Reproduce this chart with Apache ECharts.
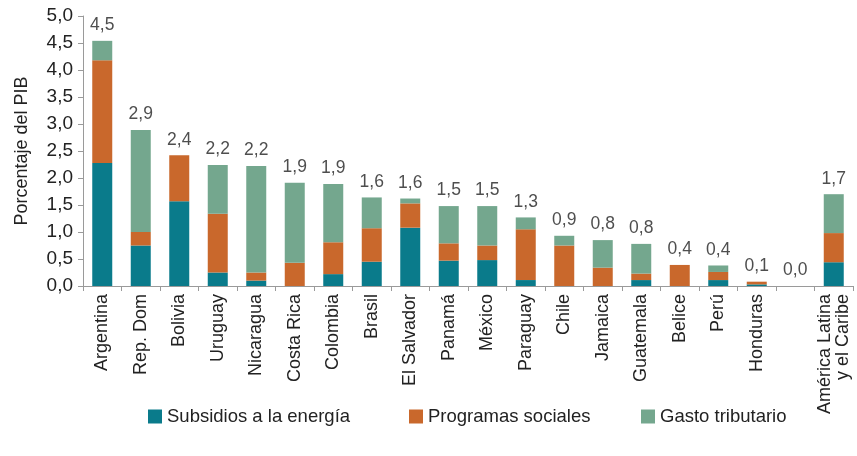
<!DOCTYPE html>
<html>
<head>
<meta charset="utf-8">
<script src="https://cdn.jsdelivr.net/npm/echarts@6/dist/echarts.min.js"></script>
<style>
  html, body { margin: 0; padding: 0; background: #fff; }
  #chart { width: 857px; height: 456px; }
</style>
</head>
<body>
<div id="chart"></div>
<script>
// categorías (la casilla vacía es la que muestra 0,0)
const categories = ['Argentina', 'Rep. Dom', 'Bolivia', 'Uruguay', 'Nicaragua', 'Costa Rica', 'Colombia', 'Brasil',
  'El Salvador', 'Panamá', 'México', 'Paraguay', 'Chile', 'Jamaica', 'Guatemala', 'Belice', 'Perú', 'Honduras', '',
  'América Latina\ny el Caribe']
const subsidios = [2.28, 0.75, 1.57, 0.25, 0.1, 0, 0.22, 0.45, 1.08, 0.47, 0.48, 0.11, 0, 0, 0.11, 0, 0.11, 0.03, 0, 0.44]
const programas = [1.9, 0.25, 0.85, 1.09, 0.15, 0.43, 0.59, 0.62, 0.45, 0.32, 0.27, 0.94, 0.75, 0.34, 0.12, 0.39, 0.15, 0.05, 0, 0.54]
const gasto = [0.36, 1.89, 0, 0.9, 1.97, 1.48, 1.08, 0.57, 0.09, 0.69, 0.73, 0.22, 0.18, 0.51, 0.55, 0, 0.12, 0, 0, 0.72]
// etiquetas de total tal como aparecen
const totals = ['4,5', '2,9', '2,4', '2,2', '2,2', '1,9', '1,9', '1,6', '1,6', '1,5', '1,5', '1,3', '0,9', '0,8', '0,8',
  '0,4', '0,4', '0,1', '0,0', '1,7']
const yTicks = [0, 0.5, 1, 1.5, 2, 2.5, 3, 3.5, 4, 4.5, 5]

const FONT = 'Liberation Sans, Arial, sans-serif'
const colors = { teal: '#0a7b8b', orange: '#c9682c', green: '#74a78e' }

const chart = echarts.init(document.getElementById('chart'))
const sums = categories.map((c, i) => subsidios[i] + programas[i] + gasto[i])

// una leyenda por serie para respetar su posición
function legendAt(name, left) {
  return {
    data: [name],
    left: left,
    top: 402,
    icon: 'rect',
    itemWidth: 14,
    itemHeight: 14,
    itemGap: 6,
    textStyle: { fontSize: 18.5, color: '#222', fontFamily: FONT }
  }
}

chart.setOption({
  animation: false,
  textStyle: { fontFamily: FONT },
  grid: { left: 83, right: 4, top: 16, bottom: 170 },
  legend: [
    legendAt('Subsidios a la energía', 143),
    legendAt('Programas sociales', 404),
    legendAt('Gasto tributario', 636)
  ],
  xAxis: {
    type: 'category',
    data: categories,
    axisLine: { lineStyle: { color: '#9a9a9a' } },
    axisTick: { show: true, alignWithLabel: false, length: 5, lineStyle: { color: '#9a9a9a' } },
    axisLabel: {
      interval: 0,
      rotate: 90,
      margin: 8,
      fontSize: 18,
      color: '#222',
      fontFamily: FONT
    }
  },
  yAxis: {
    type: 'value',
    min: 0,
    max: 5,
    interval: 0.5,
    name: 'Porcentaje del PIB',
    nameLocation: 'middle',
    nameGap: 52,
    nameTextStyle: { fontSize: 18, color: '#222', fontFamily: FONT },
    axisLine: { show: true, lineStyle: { color: '#9a9a9a' } },
    axisTick: { show: true, length: 5, lineStyle: { color: '#9a9a9a' } },
    splitLine: { show: false },
    axisLabel: {
      fontSize: 19,
      color: '#222',
      margin: 10,
      fontFamily: FONT,
      formatter: v => yTicks.indexOf(v) >= 0 ? v.toFixed(1).replace('.', ',') : ''
    }
  },
  series: [
    {
      name: 'Subsidios a la energía',
      type: 'bar',
      stack: 'pib',
      barWidth: 20,
      data: subsidios,
      itemStyle: { color: colors.teal }
    },
    {
      name: 'Programas sociales',
      type: 'bar',
      stack: 'pib',
      barWidth: 20,
      data: programas,
      itemStyle: { color: colors.orange }
    },
    {
      name: 'Gasto tributario',
      type: 'bar',
      stack: 'pib',
      barWidth: 20,
      data: gasto,
      itemStyle: { color: colors.green }
    },
    {
      // etiquetas de total encima de cada barra
      name: 'total',
      type: 'scatter',
      data: sums,
      symbolSize: 1,
      itemStyle: { color: 'transparent' },
      silent: true,
      label: {
        show: true,
        position: 'top',
        distance: 6,
        fontSize: 17.5,
        color: '#222',
        fontFamily: FONT,
        formatter: p => totals[p.dataIndex]
      }
    }
  ]
})
</script>
</body>
</html>
